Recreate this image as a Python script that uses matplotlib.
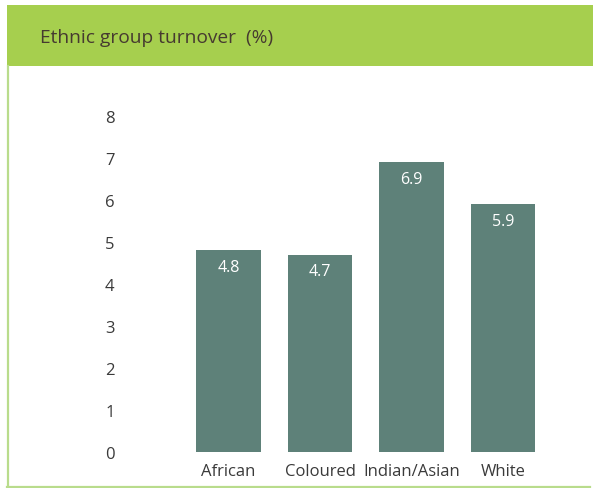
import matplotlib
matplotlib.use("Agg")
import matplotlib.pyplot as plt
from matplotlib.patches import Rectangle
from matplotlib.lines import Line2D

categories = ["African", "Coloured", "Indian/Asian", "White"]
turnover = [4.8, 4.7, 6.9, 5.9]
yticks = [0, 1, 2, 3, 4, 5, 6, 7, 8]
title = "Ethnic group turnover  (%)"

W, H = 593, 489
fig = plt.figure(figsize=(W / 100, H / 100), dpi=100)
plt.rcParams['font.family'] = ['Open Sans', 'DejaVu Sans']

GREEN = "#a6cf4e"
BORDER = "#b9dc8c"
BAR = "#5e8179"
TEXT = "#3a3a3a"

# header band and frame lines
fig.patches.append(Rectangle((7 / W, 1 - 67 / H), 1 - 7 / W, (67 - 6) / H,
                             transform=fig.transFigure, facecolor=GREEN,
                             edgecolor="none", zorder=0))
fig.lines.append(Line2D([7.5 / W, 7.5 / W], [1 - 67 / H, 1 - 487.5 / H],
                        transform=fig.transFigure, color=BORDER, lw=1.6))
fig.lines.append(Line2D([7 / W, 590 / W], [1 - 487.5 / H, 1 - 487.5 / H],
                        transform=fig.transFigure, color=BORDER, lw=1.6))
fig.text(40 / W, 1 - 38 / H, title, fontsize=13.8, color="#463a30",
         ha="left", va="center")

# plotting area
left_px, right_px = 120, 560
top_px, bottom_px = 117, 453
ax = fig.add_axes([left_px / W, 1 - bottom_px / H,
                   (right_px - left_px) / W, (bottom_px - top_px) / H])
spacing = 91.5
center0 = 228.5
ax.set_xlim((left_px - center0) / spacing, (right_px - center0) / spacing)
ax.set_ylim(0, 8)

x = list(range(len(categories)))
bars = ax.bar(x, turnover, width=0.71, color=BAR, edgecolor="none")
for xi, v in zip(x, turnover):
    ax.annotate(f"{v}", (xi, v), xytext=(0, -12), textcoords="offset points",
                ha="center", va="center", color="white", fontsize=11.5)

for s in ax.spines.values():
    s.set_visible(False)
ax.set_yticks(yticks)
ax.set_yticklabels([str(t) for t in yticks])
ax.set_xticks(x)
ax.set_xticklabels(categories)
ax.tick_params(axis="both", length=0, labelsize=12, labelcolor=TEXT)
ax.tick_params(axis="y", pad=4)
ax.tick_params(axis="x", pad=8)
ax.set_facecolor("none")

fig.savefig("out.png", dpi=100)
